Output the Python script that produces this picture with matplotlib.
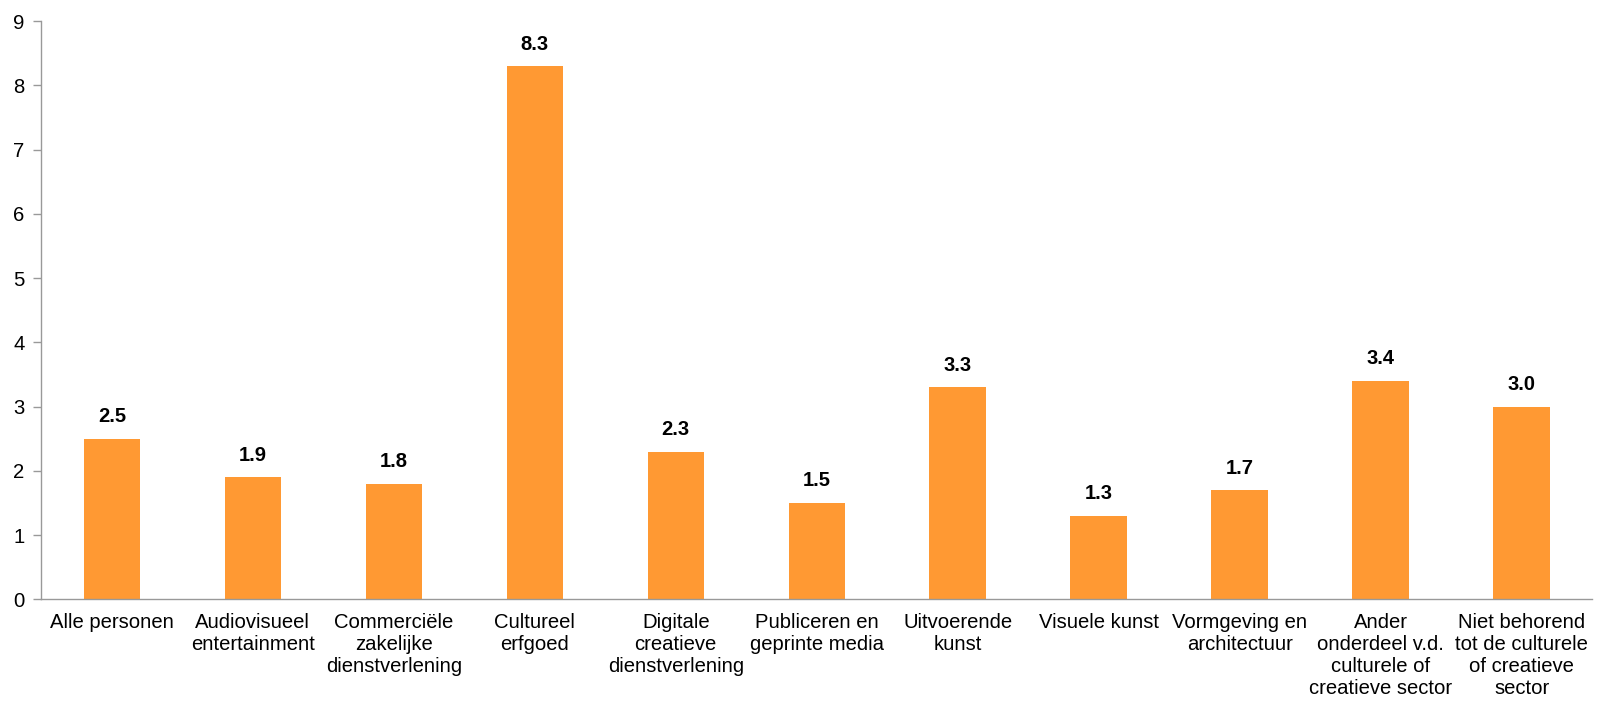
import matplotlib
matplotlib.use("Agg")
import matplotlib.pyplot as plt

categories = [
    "Alle personen",
    "Audiovisueel\nentertainment",
    "Commerciële\nzakelijke\ndienstverlening",
    "Cultureel\nerfgoed",
    "Digitale\ncreatieve\ndienstverlening",
    "Publiceren en\ngeprinte media",
    "Uitvoerende\nkunst",
    "Visuele kunst",
    "Vormgeving en\narchitectuur",
    "Ander\nonderdeel v.d.\nculturele of\ncreatieve sector",
    "Niet behorend\ntot de culturele\nof creatieve\nsector",
]
values = [2.5, 1.9, 1.8, 8.3, 2.3, 1.5, 3.3, 1.3, 1.7, 3.4, 3.0]
y_ticks = list(range(0, 10))

plt.rcParams["font.family"] = ["Liberation Sans", "DejaVu Sans"]

fig = plt.figure(figsize=(15.97, 7.01), dpi=100)
ax = fig.add_axes([0.0259, 0.145, 0.9710, 0.825])

x = list(range(len(categories)))
bars = ax.bar(x, values, width=0.40, color="#FF9933")

for xi, v in zip(x, values):
    ax.annotate(f"{v:.1f}", (xi, v), xytext=(0, 9), textcoords="offset points",
                ha="center", va="bottom", fontsize=14.5, fontweight="bold", color="black")

ax.set_xlim(-0.5, len(categories) - 0.5)
ax.set_ylim(0, 9)
ax.set_yticks(y_ticks)
ax.set_xticks(x)
ax.set_xticklabels(categories, fontsize=14.6, linespacing=1.2)
ax.tick_params(axis="x", length=0, pad=10)
ax.tick_params(axis="y", length=6, width=1, color="#999999", labelsize=14.6, pad=6)

for s in ["top", "right"]:
    ax.spines[s].set_visible(False)
for s in ["left", "bottom"]:
    ax.spines[s].set_color("#999999")
    ax.spines[s].set_linewidth(1)

fig.savefig("out.png", dpi=100)
